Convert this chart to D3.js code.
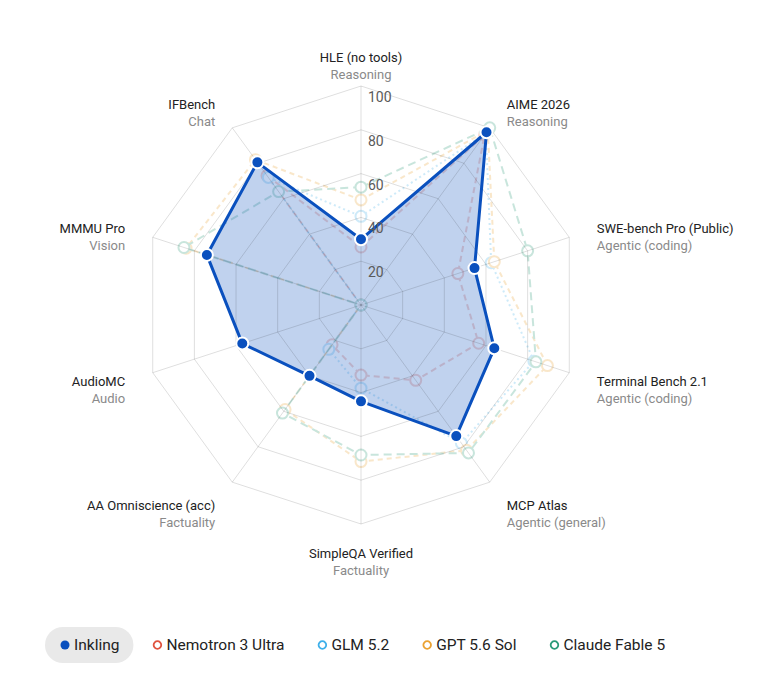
<!DOCTYPE html>
<html>
<head>
<meta charset="utf-8">
<script src="https://cdn.jsdelivr.net/npm/d3@7"></script>
<style>
  body { margin: 0; background: #fff; }
  svg { display: block; font-family: Roboto, "Noto Sans", sans-serif; }
</style>
</head>
<body>
<div id="chart"></div>
<script>
var axes = ["HLE (no tools)", "AIME 2026", "SWE-bench Pro (Public)", "Terminal Bench 2.1", "MCP Atlas",
            "SimpleQA Verified", "AA Omniscience (acc)", "AudioMC", "MMMU Pro", "IFBench"];
var groups = ["Reasoning", "Reasoning", "Agentic (coding)", "Agentic (coding)", "Agentic (general)",
              "Factuality", "Factuality", "Audio", "Vision", "Chat"];
var ticks = [20, 40, 60, 80, 100];

var inkling  = [30, 97.5, 54.5, 64, 74, 44, 40, 57, 74, 80.5];
var nemotron = [26.5, 96, 46.5, 56.5, 42.5, 32, 22.5, 0, 0, 73];
var glm      = [40.5, 97, 62.5, 83, 78, 38, 25, 0, 0, 72];
var gpt      = [48, 98.5, 64, 89.5, 82, 71.5, 59, 0, 84, 82];
var claude   = [53.8, 100, 80, 84, 83.5, 68.5, 61, 0, 85, 64];

var seriesNames = ["Inkling", "Nemotron 3 Ultra", "GLM 5.2", "GPT 5.6 Sol", "Claude Fable 5"];
var seriesColors = ["#0a50be", "#e0533f", "#3fb0ea", "#eba232", "#2a9a78"];

var width = 781, height = 673;
var cx = 361, cy = 305;

var svg = d3.select("#chart").append("svg")
  .attr("width", width)
  .attr("height", height);

var r = d3.scaleLinear().domain([0, 100]).range([0, 219]);
var angle = d3.scalePoint().domain(d3.range(axes.length)).range([0, 2 * Math.PI * (axes.length - 1) / axes.length]);

function px(i, v) { return r(v) * Math.sin(angle(i)); }
function py(i, v) { return -r(v) * Math.cos(angle(i)); }

var g = svg.append("g").attr("transform", "translate(" + cx + "," + cy + ")");

var radial = d3.lineRadial()
  .angle(function (d, i) { return angle(i); })
  .radius(function (d) { return r(d); })
  .curve(d3.curveLinearClosed);

// faint comparison series, drawn under the main fill
var others = [
  {name: seriesNames[1], values: nemotron, color: seriesColors[1], dash: "6,4"},
  {name: seriesNames[2], values: glm, color: seriesColors[2], dash: "2,3"},
  {name: seriesNames[3], values: gpt, color: seriesColors[3], dash: "5,4"},
  {name: seriesNames[4], values: claude, color: seriesColors[4], dash: "8,5"}
];

var og = g.append("g").attr("opacity", 0.25);
others.forEach(function (s) {
  og.append("path")
    .attr("d", radial(s.values))
    .attr("fill", "none")
    .attr("stroke", s.color)
    .attr("stroke-width", 2)
    .attr("stroke-dasharray", s.dash);
  og.selectAll(null)
    .data(s.values)
    .enter()
    .append("circle")
    .attr("cx", function (d, i) { return px(i, d); })
    .attr("cy", function (d, i) { return py(i, d); })
    .attr("r", 5.5)
    .attr("fill", "#fff")
    .attr("stroke", s.color)
    .attr("stroke-width", 2);
});

// main fill
g.append("path")
  .attr("d", radial(inkling))
  .attr("fill", seriesColors[0])
  .attr("fill-opacity", 0.26);

// grid
var grid = g.append("g");
ticks.forEach(function (t) {
  grid.append("path")
    .attr("d", radial(axes.map(function () { return t; })))
    .attr("fill", "none")
    .attr("stroke", "rgba(0,0,0,0.13)")
    .attr("stroke-width", 1);
});
grid.selectAll(".spoke")
  .data(axes)
  .enter()
  .append("line")
  .attr("class", "spoke")
  .attr("x1", 0).attr("y1", 0)
  .attr("x2", function (d, i) { return px(i, 100); })
  .attr("y2", function (d, i) { return py(i, 100); })
  .attr("stroke", "rgba(0,0,0,0.13)")
  .attr("stroke-width", 1);

// main line and dots
g.append("path")
  .attr("d", radial(inkling))
  .attr("fill", "none")
  .attr("stroke", seriesColors[0])
  .attr("stroke-width", 3)
  .attr("stroke-linejoin", "round");

g.selectAll(".dot")
  .data(inkling)
  .enter()
  .append("circle")
  .attr("class", "dot")
  .attr("cx", function (d, i) { return px(i, d); })
  .attr("cy", function (d, i) { return py(i, d); })
  .attr("r", 6)
  .attr("fill", seriesColors[0])
  .attr("stroke", "#fff")
  .attr("stroke-width", 2);

// tick labels
g.selectAll(".tick")
  .data(ticks)
  .enter()
  .append("text")
  .attr("class", "tick")
  .attr("x", 7)
  .attr("y", function (d) { return -r(d) + 11; })
  .attr("dy", "0.35em")
  .attr("font-size", 14)
  .attr("fill", "#5a5a5a")
  .text(function (d) { return d; });

// axis labels
var labelR = 248;
var lab = g.selectAll(".axis-label")
  .data(axes)
  .enter()
  .append("g")
  .attr("class", "axis-label")
  .attr("transform", function (d, i) {
    return "translate(" + (labelR * Math.sin(angle(i))) + "," + (-labelR * Math.cos(angle(i))) + ")";
  });

function anchor(i) {
  var s = Math.sin(angle(i));
  if (Math.abs(s) < 0.01) return "middle";
  return s > 0 ? "start" : "end";
}

lab.append("text")
  .attr("text-anchor", function (d, i) { return anchor(i); })
  .attr("dy", "0.35em")
  .attr("font-size", 13)
  .attr("fill", "#222")
  .text(function (d) { return d; });

lab.append("text")
  .attr("text-anchor", function (d, i) { return anchor(i); })
  .attr("y", 17)
  .attr("dy", "0.35em")
  .attr("font-size", 13)
  .attr("fill", "#8a8a8a")
  .text(function (d, i) { return groups[i]; });

// legend
var legend = svg.append("g").attr("transform", "translate(0,645)");
var pill = legend.append("rect")
  .attr("y", -18)
  .attr("height", 36)
  .attr("rx", 18)
  .attr("fill", "#e9e9e9");

var lx = 65;
seriesNames.forEach(function (name, i) {
  var item = legend.append("g").attr("transform", "translate(" + lx + ",0)");
  item.append("circle")
    .attr("r", i === 0 ? 4.5 : 3.8)
    .attr("fill", i === 0 ? seriesColors[0] : "#fff")
    .attr("stroke", seriesColors[i])
    .attr("stroke-width", i === 0 ? 0 : 1.8);
  var t = item.append("text")
    .attr("x", 9)
    .attr("dy", "0.35em")
    .attr("font-size", 15.5)
    .attr("fill", "#222")
    .text(name);
  var w = t.node().getComputedTextLength();
  if (i === 0) {
    pill.attr("x", lx - 20).attr("width", w + 9 + 34);
  }
  lx += 9 + w + 38;
});
</script>
</body>
</html>
